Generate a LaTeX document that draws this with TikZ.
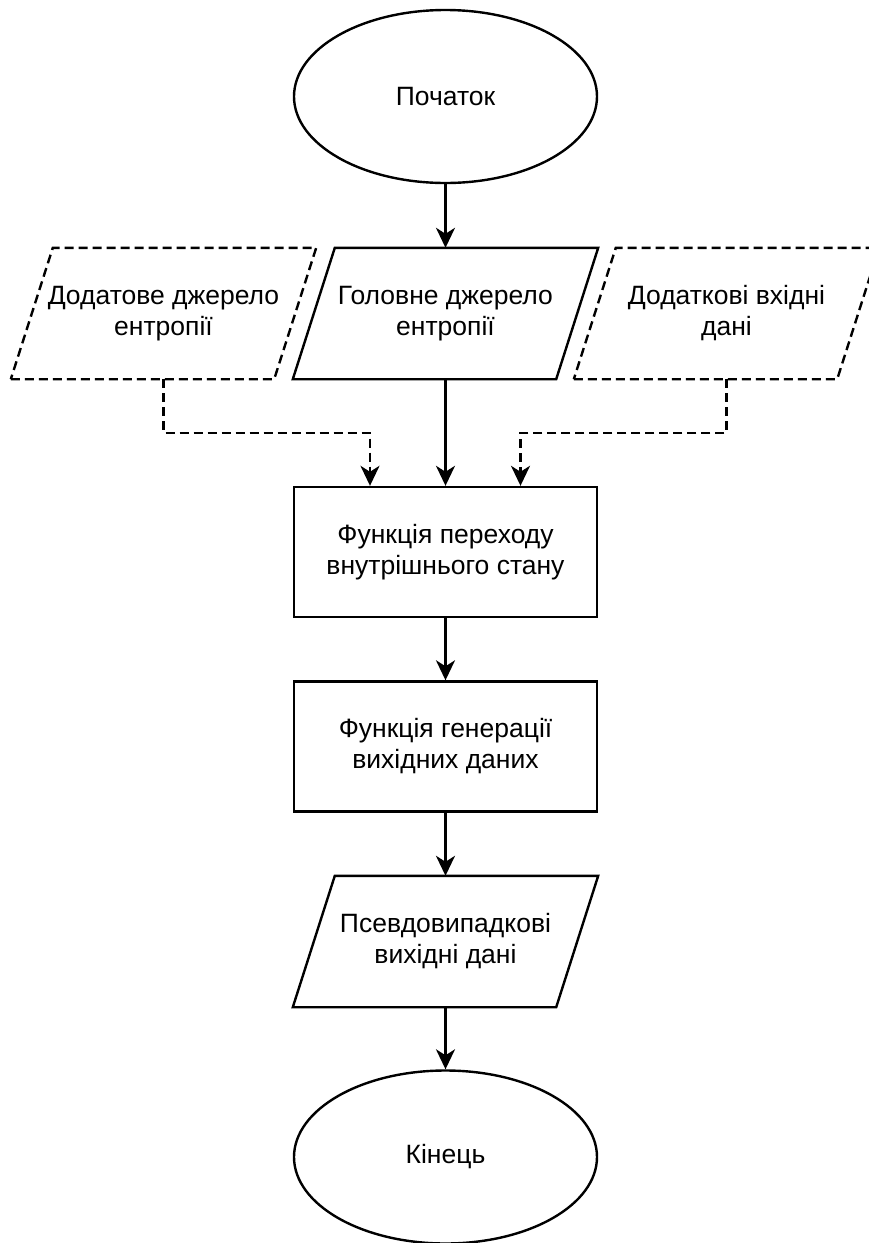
\documentclass[tikz,border=0pt]{standalone}
\usepackage{fontspec}
\setmainfont{Liberation Sans}
\usetikzlibrary{shapes.geometric,arrows.meta,calc}
\newcommand{\ioshape}[2][]{\draw[#1] (#2.south west) -- ($(#2.south east)+(-42,0)$) -- (#2.north east) -- ($(#2.north west)+(42,0)$) -- cycle;}
\begin{document}
\begin{tikzpicture}[x=1pt,y=-1pt,line width=2.4pt,
  txt/.style={font=\fontsize{26.5}{31}\selectfont, align=center, text=black},
  term/.style={ellipse, draw, fill=white, minimum width=303pt, minimum height=173pt, inner sep=0pt, txt},
  proc/.style={rectangle, draw, fill=white, minimum width=303pt, minimum height=130pt, inner sep=0pt, txt},
  io/.style={rectangle, minimum width=303pt, minimum height=129pt, inner sep=0pt, txt},
  dsh/.style={dash pattern=on 9pt off 5pt},
  arr/.style={-{Stealth[length=20pt,width=19pt,inset=6pt]}},
  darr/.style={arr, dsh}]
\useasboundingbox (0,0) rectangle (869,1243);
\clip (0,0) rectangle (869,1243);
\node[term] (start) at (445.5,96.5) {Початок};
\node[io] (main) at (445.5,313.5) {};
\node[io] (left) at (163.5,313.5) {};
\node[io] (right) at (726.5,313.5) {};
\ioshape{main}
\ioshape[dsh]{left}
\ioshape[dsh]{right}
\node[txt] at (main) {Головне джерело\\ентропії};
\node[txt] at (left) {Додатове джерело\\ентропії};
\node[txt] at (right) {Додаткові вхідні\\дані};
\node[proc] (f1) at (445.5,552) {Функція переходу\\внутрішнього стану};
\node[proc] (f2) at (445.5,746.5) {Функція генерації\\вихідних даних};
\node[io] (out) at (445.5,941.5) {};
\ioshape{out}
\node[txt] at (out) {Псевдовипадкові\\вихідні дані};
\node[term] (end) at (445.5,1157) {Кінець};
\coordinate (lk) at (370,433);
\coordinate (rk) at (520.5,433);
\draw[arr] (start.south) -- (main.north);
\draw[arr] (main.south) -- (f1.north);
\draw[darr] (left.south) |- (lk) -- (lk |- f1.north);
\draw[darr] (right.south) |- (rk) -- (rk |- f1.north);
\draw[arr] (f1.south) -- (f2.north);
\draw[arr] (f2.south) -- (out.north);
\draw[arr] (out.south) -- (end.north);
\end{tikzpicture}
\end{document}
